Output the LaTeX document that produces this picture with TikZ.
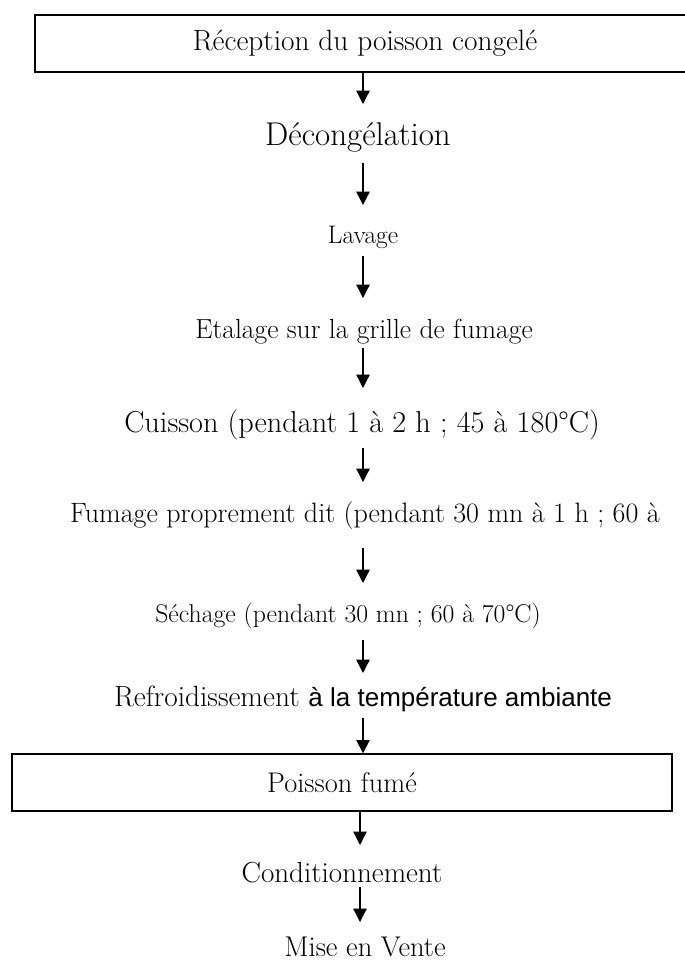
\documentclass[tikz,border=0pt]{standalone}
\usepackage{fontspec}
\newfontfamily\arialfont{Liberation Sans}
\usetikzlibrary{arrows.meta}

\begin{document}
\begin{tikzpicture}[x=0.75pt,y=0.75pt,yscale=-1,
  stage/.style={inner sep=0pt, anchor=base},
  stagebox/.style={draw, line width=1pt, inner sep=0pt, minimum width=495pt, minimum height=42.75pt},
  flow/.style={line width=1pt, -{Triangle[width=10pt,length=10pt]}}]
\useasboundingbox (0,0) rectangle (685,960);
\coordinate (ax) at (363,0);
\coordinate (bx) at (360,0);

%Shape: Rectangle
\node [stagebox, font=\fontsize{22}{26}\selectfont] (recep) at (365,43.5) {Réception du poisson congelé};
%Shape: Rectangle
\node [stagebox, font=\fontsize{21.3}{25}\selectfont] (poisson) at (342,782.5) {Poisson fumé};

% Text Node
\node [stage, font=\fontsize{24.7}{29}\selectfont] (decong) at (358,145) {Décongélation};
% Text Node
\node [stage, font=\fontsize{19}{23}\selectfont] (lavage) at (363,243) {Lavage};
% Text Node
\node [stage, font=\fontsize{20.7}{25}\selectfont] (etalage) at (364,338) {Etalage sur la grille de fumage};
% Text Node
\node [stage, font=\fontsize{22.7}{27}\selectfont] (cuisson) at (362,432) {Cuisson (pendant 1 à 2 h ; 45 à 180°C)};
% Text Node
\node [stage, font=\fontsize{21}{25}\selectfont] (fumage) at (365,522) {Fumage proprement dit (pendant 30 mn à 1 h ; 60 à};
% Text Node
\node [stage, font=\fontsize{19.3}{23}\selectfont] (sechage) at (348,622) {Séchage (pendant 30 mn ; 60 à 70°C)};
% Text Node
\node [stage, font=\fontsize{22}{26}\selectfont] (refroid) at (363,706) {Refroidissement {\arialfont\fontsize{19.5}{23}\selectfont à la température ambiante}};
% Text Node
\node [stage, font=\fontsize{21.8}{26}\selectfont] (condit) at (342,882) {Conditionnement};
% Text Node
\node [stage, text depth=0pt, font=\fontsize{21.4}{26}\selectfont] (vente) at (365,956) {Mise en Vente};

%Straight Lines
\draw [flow, shorten >=30.75pt] (recep.south -| ax) -- (decong.base -| ax);
\draw [flow, shorten <=13.5pt, shorten >=28.5pt] (decong.base -| ax) -- (lavage.base -| ax);
\draw [flow, shorten <=9.75pt, shorten >=30pt] (lavage.base -| ax) -- (etalage.base -| ax);
\draw [flow, shorten <=7.5pt, shorten >=33pt] (etalage.base -| ax) -- (cuisson.base -| ax);
\draw [flow, shorten <=12pt, shorten >=30pt] (cuisson.base -| ax) -- (fumage.base -| ax);
\draw [flow, shorten <=19.5pt, shorten >=29.25pt] (fumage.base -| ax) -- (sechage.base -| ax);
\draw [flow, shorten <=13.5pt, shorten >=24.75pt] (sechage.base -| ax) -- (refroid.base -| ax);
\draw [flow, shorten <=9pt] (refroid.base -| ax) -- (poisson.north -| ax);
\draw [flow, shorten >=27.75pt] (poisson.south -| bx) -- (condit.base -| bx);
\draw [flow, shorten <=3.75pt, shorten >=25.5pt] (condit.base -| bx) -- (vente.base -| bx);

\end{tikzpicture}
\end{document}
